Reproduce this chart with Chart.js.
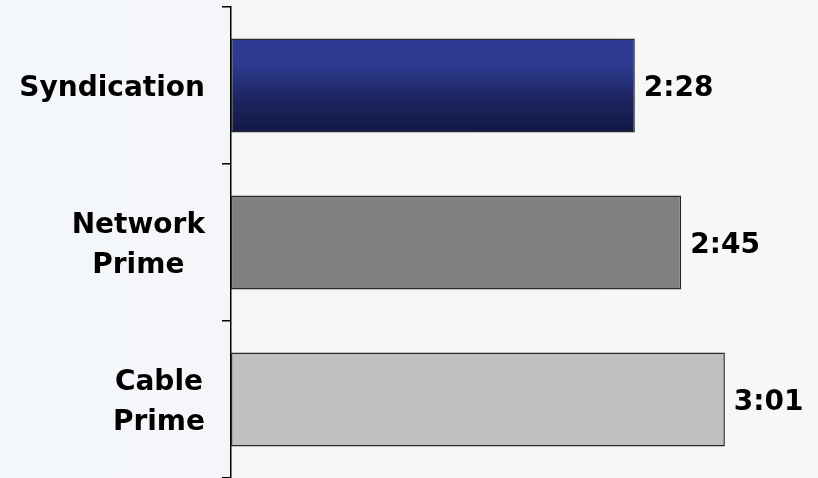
<!DOCTYPE html>
<html>
<head>
<meta charset="utf-8">
<script src="https://cdn.jsdelivr.net/npm/chart.js@4/dist/chart.umd.min.js"></script>
<style>
  html, body { margin: 0; padding: 0; background: #f7f7f7; }
  #wrap { width: 818px; height: 478px; }
</style>
</head>
<body>
<div id="wrap"><canvas id="timeChart" width="818" height="478"></canvas></div>
<script>
  // average time spent, in seconds
  const categories = [["Syndication"], ["Network", "Prime"], ["Cable", "Prime"]]
  const seconds = [148, 165, 181]
  const fills = ["#2c3a90", "#808080", "#c0c0c0"]

  const labelFont = "bold 28px 'DejaVu Sans', Verdana, sans-serif"

  function mmss(s) {
    const m = Math.floor(s / 60)
    const r = s % 60
    return m + ":" + (r < 10 ? "0" : "") + r
  }

  // soft backdrop
  const backdrop = {
    id: "backdrop",
    beforeDraw(chart) {
      const c = chart.ctx
      const g = c.createLinearGradient(0, 0, chart.width, 0)
      g.addColorStop(0, "#f3f6fa")
      g.addColorStop(0.35, "#f5f6f8")
      g.addColorStop(1, "#f7f7f7")
      c.save()
      c.fillStyle = g
      c.fillRect(0, 0, chart.width, chart.height)
      c.restore()
    },
  }

  // category names, lines centred inside a right-aligned block
  const categoryNames = {
    id: "categoryNames",
    afterDraw(chart) {
      const c = chart.ctx
      const y = chart.scales.y
      const right = chart.chartArea.left - 26
      const lh = 40
      c.save()
      c.font = labelFont
      c.fillStyle = "#000"
      c.textAlign = "center"
      c.textBaseline = "middle"
      categories.forEach((lines, i) => {
        const w = Math.max(...lines.map((t) => c.measureText(t).width))
        const cx = right - w / 2
        const cy = y.getPixelForTick(i) + 3
        lines.forEach((t, k) => {
          c.fillText(t, cx, cy + (k - (lines.length - 1) / 2) * lh)
        })
      })
      c.restore()
    },
  }

  // m:ss value at the end of each bar
  const valueLabels = {
    id: "valueLabels",
    afterDatasetsDraw(chart) {
      const c = chart.ctx
      const meta = chart.getDatasetMeta(0)
      c.save()
      c.font = labelFont
      c.fillStyle = "#000"
      c.textAlign = "left"
      c.textBaseline = "middle"
      meta.data.forEach((bar, i) => {
        c.fillText(mmss(seconds[i]), bar.x + 9, bar.y + 3)
      })
      c.restore()
    },
  }

  const ctx = document.getElementById("timeChart")

  new Chart(ctx, {
    type: "bar",
    data: {
      labels: categories.map((l) => l.join(" ")),
      datasets: [
        {
          data: seconds,
          backgroundColor: (c) => {
            if (c.dataIndex !== 0) return fills[c.dataIndex]
            const chart = c.chart
            const y = chart.scales.y
            if (!y || !chart.chartArea) return fills[0]
            const mid = y.getPixelForValue(0)
            const half = (y.height / seconds.length) * 0.6 / 2
            const g = chart.ctx.createLinearGradient(0, mid - half, 0, mid + half)
            g.addColorStop(0, "#2d3c93")
            g.addColorStop(0.3, "#2b398d")
            g.addColorStop(0.65, "#1d255f")
            g.addColorStop(1, "#121745")
            return g
          },
          borderColor: "#2a2a2a",
          borderWidth: 1.5,
          borderSkipped: false,
          barPercentage: 0.6,
          categoryPercentage: 1,
        },
      ],
    },
    options: {
      indexAxis: "y",
      responsive: false,
      animation: false,
      layout: { padding: { top: 7, right: 14, bottom: 0, left: 0 } },
      plugins: {
        legend: { display: false },
        tooltip: { enabled: false },
      },
      scales: {
        x: {
          display: false,
          min: 0,
          max: 210,
        },
        y: {
          ticks: { display: false },
          grid: {
            drawOnChartArea: false,
            drawTicks: true,
            tickLength: 9,
            color: "#000",
            lineWidth: 1.5,
          },
          border: { display: true, color: "#000", width: 1.5 },
          afterFit(scale) {
            scale.width = 231
          },
        },
      },
    },
    plugins: [backdrop, categoryNames, valueLabels],
  })
</script>
</body>
</html>
